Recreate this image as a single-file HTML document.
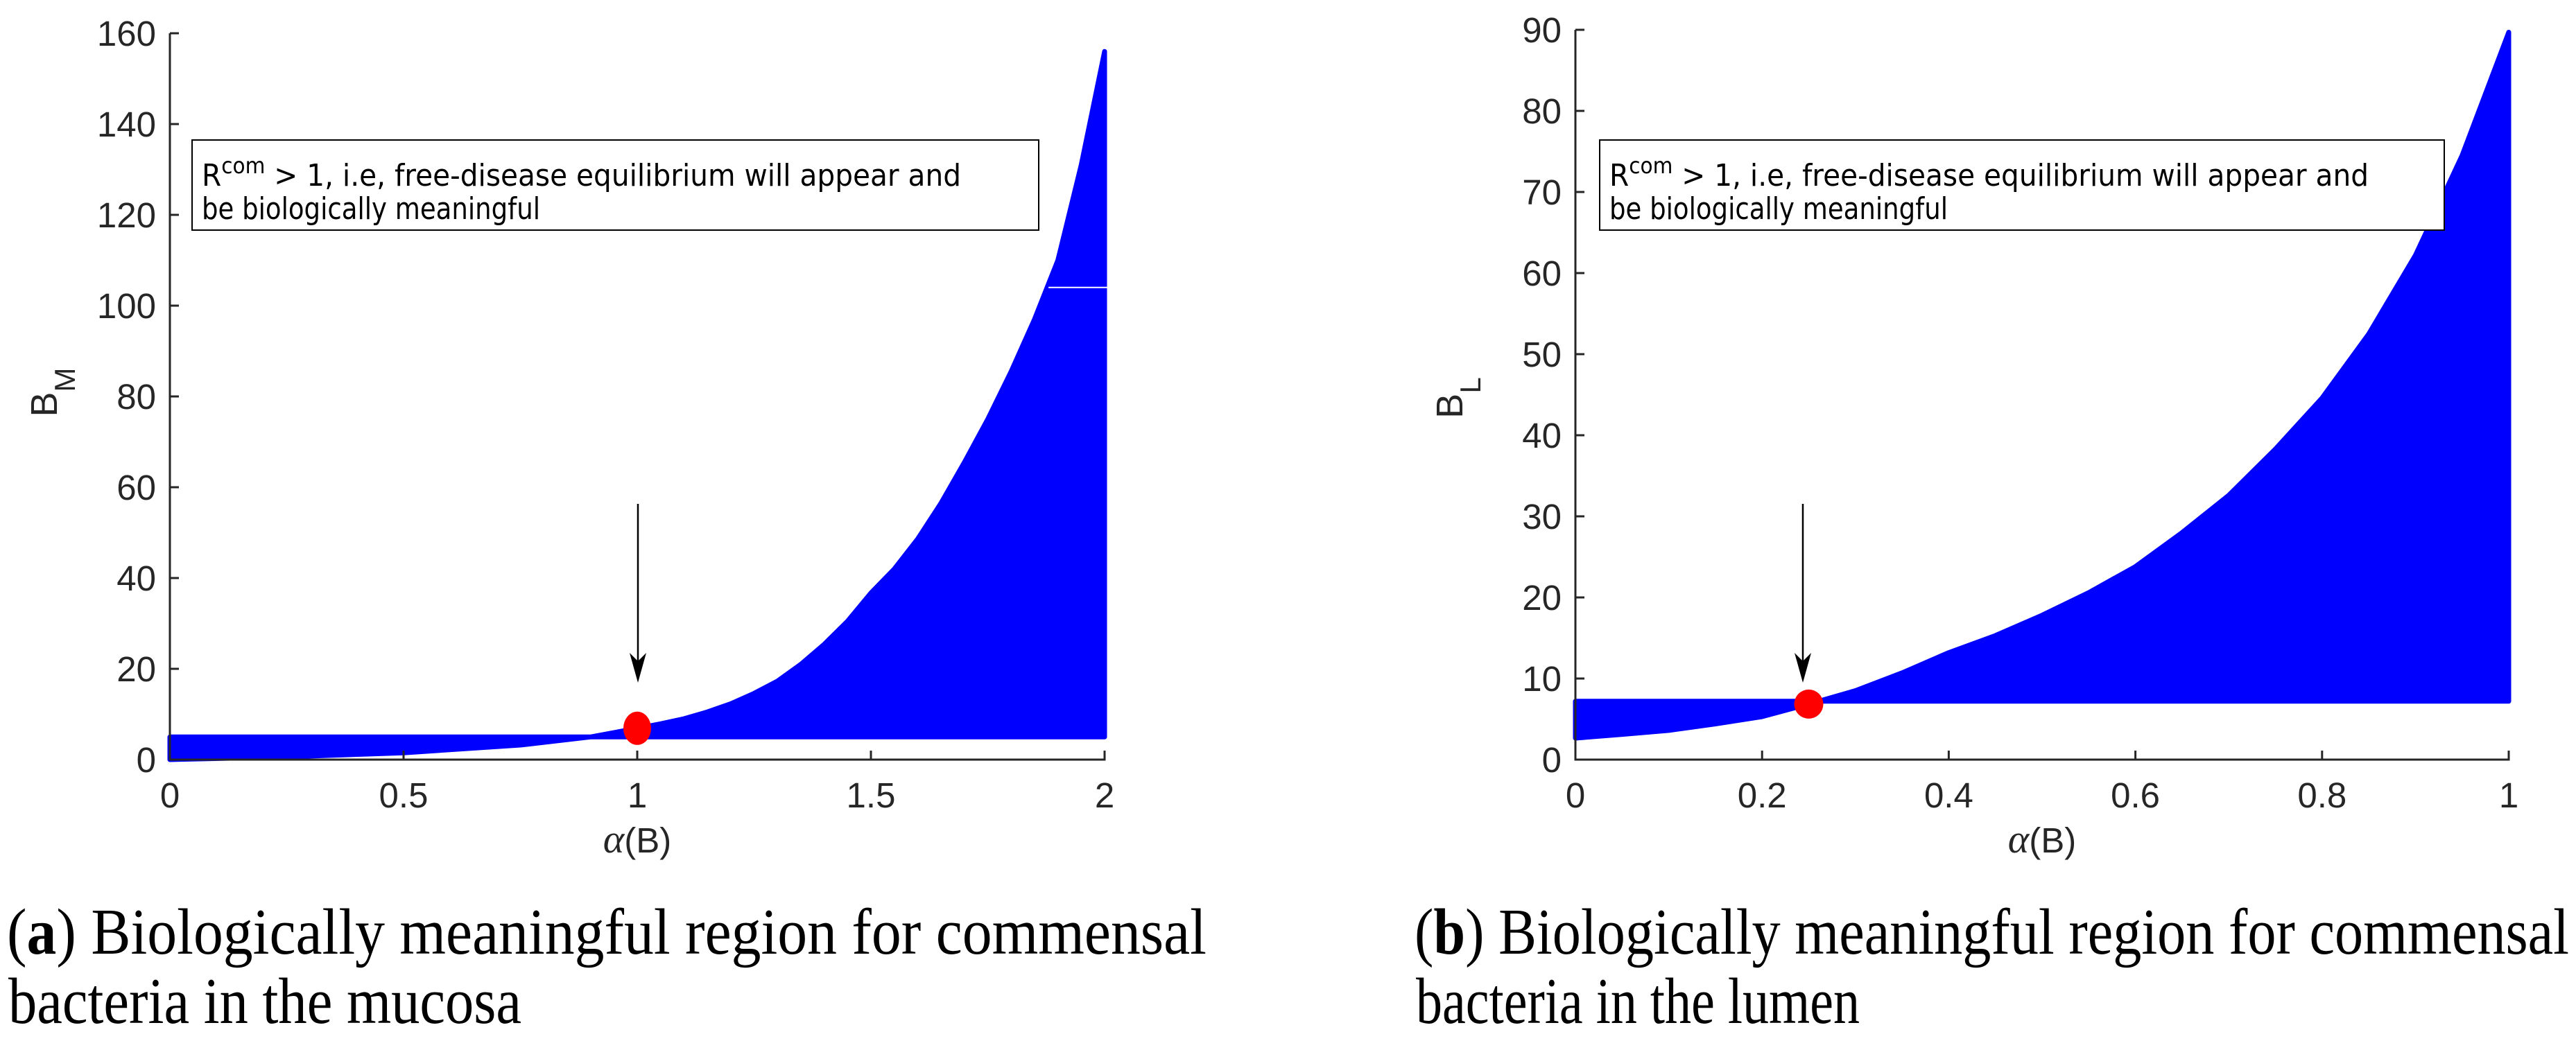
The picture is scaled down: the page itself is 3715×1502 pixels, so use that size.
<!DOCTYPE html>
<html><head><meta charset="utf-8"><style>
html,body{margin:0;padding:0;background:#fff;}
svg{display:block;}
.tk{font-family:"Liberation Sans","DejaVu Sans",sans-serif;font-size:51px;fill:#262626;}
.ax{stroke:#262626;stroke-width:3;fill:none;}
.ann{font-family:"DejaVu Sans","Liberation Sans",sans-serif;font-size:44px;fill:#000;}
.cap{font-family:"Liberation Serif",serif;font-size:94px;fill:#000;}
</style></head><body>
<svg id="fig" width="3715" height="1502" viewBox="0 0 3715 1502" xmlns="http://www.w3.org/2000/svg">
<g id="chartA"></g>
<g id="chartB"></g>
<text class="cap" x="10" y="1376" textLength="1730" lengthAdjust="spacingAndGlyphs">(<tspan font-weight="bold">a</tspan>) Biologically meaningful region for commensal</text>
<text class="cap" x="12" y="1476" textLength="740" lengthAdjust="spacingAndGlyphs">bacteria in the mucosa</text>
<text class="cap" x="2040" y="1376" textLength="1665" lengthAdjust="spacingAndGlyphs">(<tspan font-weight="bold">b</tspan>) Biologically meaningful region for commensal</text>
<text class="cap" x="2042" y="1476" textLength="640" lengthAdjust="spacingAndGlyphs">bacteria in the lumen</text>
</svg>
<script>
// Panel A data (mucosa)
const alphaA = [0,0.25,0.5,0.75,0.9,1,1.05,1.1,1.15,1.2,1.25,1.3,1.35,1.4,1.45,1.5,1.55,1.6,1.65,1.7,1.75,1.8,1.85,1.9,1.95,2];
const curveA = [0,0.6,1.5,3.2,5,6.9,7.9,9,10.5,12.3,14.6,17.3,21,25.4,30.5,36.7,42,48.6,56.5,65.5,75,85.5,97,110,131,156];
const constA = [5.0];
const gapA = [1.88, 104];
const pointA = [1, 6.9];
const xTicksA = [0,0.5,1,1.5,2];
const xTickLabelsA = ["0","0.5","1","1.5","2"];
const yTicksA = [0,20,40,60,80,100,120,140,160];
const yTickLabelsA = ["0","20","40","60","80","100","120","140","160"];
// Panel B data (lumen)
const alphaB = [0,0.05,0.1,0.15,0.2,0.25,0.3,0.35,0.4,0.45,0.5,0.55,0.6,0.65,0.7,0.75,0.8,0.85,0.9,0.95,1];
const curveB = [2.65,3.1,3.6,4.4,5.3,6.85,8.5,10.7,13.2,15.3,17.8,20.6,23.8,28,32.6,38.3,44.6,52.5,62.2,74.5,89.7];
const constB = [7.2];
const pointB = [0.25, 6.85];
const xTicksB = [0,0.2,0.4,0.6,0.8,1];
const xTickLabelsB = ["0","0.2","0.4","0.6","0.8","1"];
const yTicksB = [0,10,20,30,40,50,60,70,80,90];
const yTickLabelsB = ["0","10","20","30","40","50","60","70","80","90"];

const NS = "http://www.w3.org/2000/svg";
function mk(tag, attrs, parent){const e=document.createElementNS(NS,tag);for(const k in attrs)e.setAttribute(k,attrs[k]);parent.appendChild(e);return e;}

function drawPanel(g, cfg){
  const X = v => cfg.x0 + (v - cfg.xmin)/(cfg.xmax-cfg.xmin)*(cfg.x1-cfg.x0);
  const Y = v => cfg.y0 - (v - cfg.ymin)/(cfg.ymax-cfg.ymin)*(cfg.y0-cfg.y1);
  const al = cfg.alpha, cu = cfg.curve, c = cfg.cval;
  let pts = [];
  pts.push([X(al[0]),Y(c)]);
  pts.push([X(al[al.length-1]),Y(c)]);
  for(let i=al.length-1;i>=0;i--) pts.push([X(al[i]),Y(cu[i])]);
  const d = "M"+pts.map(p=>p[0].toFixed(1)+","+p[1].toFixed(1)).join("L")+"Z";
  const reg = mk("path",{d:d,fill:"#0000ff",stroke:"#0000ff","stroke-width":7,"stroke-linejoin":"round","fill-rule":"nonzero"},g);
  
  
  if(cfg.gap){
    const gl = mk("line",{x1:X(cfg.gap[0]),x2:X(cfg.xmax)+4,y1:Y(cfg.gap[1]),y2:Y(cfg.gap[1]),stroke:"#fff","stroke-width":2},g);
    
    
  }
  const ya = mk("line",{x1:cfg.x0,x2:cfg.x0,y1:cfg.y1,y2:cfg.y0+1.5,class:"ax"},g);
  
  
  const xa = mk("line",{x1:cfg.x0-1.5,x2:cfg.x1+1.5,y1:cfg.y0,y2:cfg.y0,class:"ax"},g);
  
  
  cfg.yt.forEach((v,i)=>{
    const t = mk("line",{x1:cfg.x0,x2:cfg.x0+13,y1:Y(v),y2:Y(v),class:"ax"},g);
    
    
    const l = mk("text",{x:cfg.x0-20,y:Y(v)+18,"text-anchor":"end",class:"tk"},g);
    l.textContent = cfg.ytl[i];
    
    
  });
  cfg.xt.forEach((v,i)=>{
    const t = mk("line",{x1:X(v),x2:X(v),y1:cfg.y0,y2:cfg.y0-13,class:"ax"},g);
    
    
    const l = mk("text",{x:X(v),y:cfg.y0+69,"text-anchor":"middle",class:"tk"},g);
    l.textContent = cfg.xtl[i];
    
    
  });
  const xt = mk("text",{x:(cfg.x0+cfg.x1)/2,y:cfg.y0+134,"text-anchor":"middle",class:"tk"},g);
  xt.innerHTML = '<tspan font-family="Liberation Serif,serif" font-style="italic" font-size="58">α</tspan>(B)';
  
  
  const yt = mk("text",{x:0,y:0,"text-anchor":"middle",class:"tk",transform:`translate(${cfg.x0-163},${cfg.ytY}) rotate(-90)`},g);
  yt.innerHTML = 'B<tspan font-size="42" dy="26">'+cfg.sub+'</tspan>';
  yt.style.fontSize = "54px";
  
  
  const bx = mk("rect",{x:cfg.box[0],y:202,width:cfg.box[1]-cfg.box[0],height:130,fill:"#fff",stroke:"#000","stroke-width":2},g);
  
  
  const t1 = mk("text",{x:cfg.box[0]+14,y:268,class:"ann",textLength:1095,lengthAdjust:"spacingAndGlyphs"},g);
  t1.innerHTML = 'R<tspan font-size="32" dy="-18">com</tspan><tspan dy="18"> &gt; 1, i.e, free-disease equilibrium will appear and</tspan>';
  
  
  const t2 = mk("text",{x:cfg.box[0]+14,y:316,class:"ann",textLength:488,lengthAdjust:"spacingAndGlyphs"},g);
  t2.textContent = 'be biologically meaningful';
  
  
  const ax = cfg.arrowX;
  const al2 = mk("line",{x1:ax,x2:ax,y1:727,y2:955,stroke:"#000","stroke-width":2.5},g);
  
  
  const ah = mk("path",{d:`M${ax-12},942 L${ax},985 L${ax+12},942 L${ax},954 Z`,fill:"#000"},g);
  
  
  const rp = mk("ellipse",{cx:X(cfg.pt[0]),cy:Y(cfg.pt[1]),rx:cfg.prx,ry:cfg.pry,fill:"#ff0000"},g);
  
  
}

drawPanel(document.getElementById('chartA'),{
  x0:245,x1:1593,xmin:0,xmax:2,y0:1096,y1:48,ymin:0,ymax:160,
  alpha:alphaA,curve:curveA,cval:constA[0],gap:gapA,pt:pointA,prx:20,pry:24,
  xt:xTicksA,xtl:xTickLabelsA,yt:yTicksA,ytl:yTickLabelsA,sub:"M",ytY:566,
  box:[277,1498],arrowX:920
});
drawPanel(document.getElementById('chartB'),{
  x0:2272,x1:3618,xmin:0,xmax:1,y0:1096,y1:43,ymin:0,ymax:90,
  alpha:alphaB,curve:curveB,cval:constB[0],gap:null,pt:pointB,prx:21,pry:21,
  xt:xTicksB,xtl:xTickLabelsB,yt:yTicksB,ytl:yTickLabelsB,sub:"L",ytY:574,
  box:[2307,3525],arrowX:2600
});
</script>
</body></html>
